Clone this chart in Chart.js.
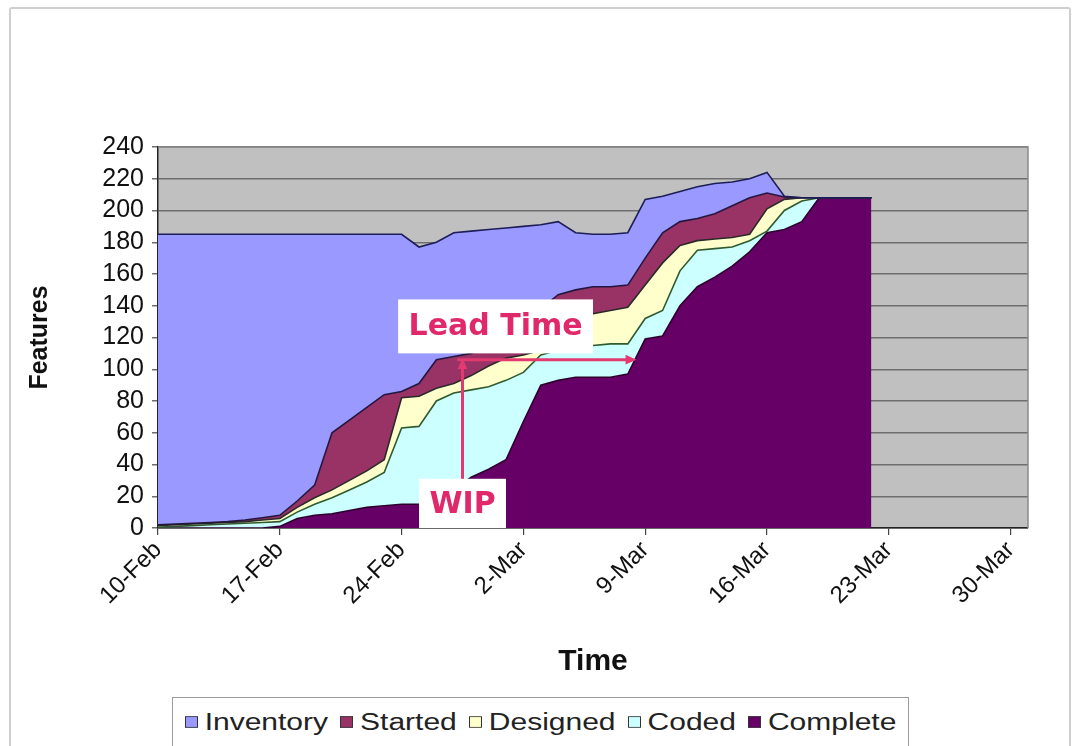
<!DOCTYPE html>
<html>
<head>
<meta charset="utf-8">
<script src="https://cdn.jsdelivr.net/npm/chart.js@4.4.1/dist/chart.umd.min.js"></script>
<style>
  html, body { margin: 0; padding: 0; background: #fff; overflow: hidden; }
  #frame { position: absolute; left: 9px; top: 7px; width: 1058px; height: 780px; border: 2px solid #cfcfcf; border-radius: 3px; }
  #wrap { position: absolute; left: 0; top: 0; width: 1075px; height: 690px; }
  #legend { position: absolute; left: 172px; top: 697px; width: 735px; height: 80px; border: 1.5px solid #9c9c9c; background: #fff;
            font-family: "Liberation Sans", Arial, sans-serif; font-size: 30px; color: #222; }
  #legend .row { height: 48px; display: flex; align-items: center; justify-content: center; transform: scaleY(0.82); }
  #legend .item { display: flex; align-items: center; margin: 0 6px; }
  #legend .box { width: 11px; height: 12px; border: 1.5px solid #333; margin-right: 7px; }
</style>
</head>
<body>
<div id="frame"></div>
<div id="wrap"><canvas id="cfd" width="1075" height="690"></canvas></div>
<div id="legend"><div class="row" id="legendRow"></div></div>
<script>
// days since 10-Feb
const days = [0, 1, 2, 3, 4, 5, 6, 7, 8, 9, 10, 11, 12, 13, 14, 15, 16, 17, 18, 19, 20,
              21, 22, 23, 24, 25, 26, 27, 28, 29, 30, 31, 32, 33, 34, 35, 36, 37, 38, 39, 40, 41];
const tickLabels = ['10-Feb', '17-Feb', '24-Feb', '2-Mar', '9-Mar', '16-Mar', '23-Mar', '30-Mar'];
const seriesNames = ['Inventory', 'Started', 'Designed', 'Coded', 'Complete'];

// cumulative feature counts (top edge of each band)
const inventory = [185, 185, 185, 185, 185, 185, 185, 185, 185, 185, 185, 185, 185, 185, 185, 177, 180, 186, 187, 188, 189,
                   190, 191, 193, 186, 185, 185, 186, 207, 209, 212, 215, 217, 218, 220, 224, 209, 208, 208, 208, 208, 208];
const started = [2, 2.5, 3, 3.5, 4, 5, 6.5, 8, 17, 27, 60, 68, 76, 84, 86, 91, 106, 108, 110, 114, 120,
                 128, 138, 147, 150, 152, 152, 153, 170, 186, 193, 195, 198, 203, 208, 211, 208.5, 208, 208, 208, 208, 208];
const designed = [1.5, 2, 2.5, 3, 3.5, 4, 5, 6, 13, 19, 24, 30, 36, 43, 82, 83, 88, 91, 96, 102, 107,
                  109, 112, 120, 128, 135, 137, 139, 153, 167, 178, 181, 182, 183, 185, 201, 207, 208, 208, 208, 208, 208];
const coded = [0.5, 1, 1.5, 2, 2.5, 3, 3.5, 4, 10, 15, 19, 24, 29, 35, 63, 64, 80, 85, 87, 89, 93,
               98, 109, 112, 114, 115, 116, 116, 132, 137, 162, 175, 176, 177, 181, 187, 200, 206, 208, 208, 208, 208];
const complete = [0, 0, 0, 0, 0, 0, 0, 1, 6, 8, 9, 11, 13, 14, 15, 15, 16, 24, 32, 37, 43,
                  67, 90, 93, 95, 95, 95, 97, 119, 121, 140, 152, 158, 165, 174, 186, 188, 193, 208, 208, 208, 208];

const fills = ['#9999FF', '#993366', '#FFFFCC', '#CCFFFF', '#660066'];
const edges = ['#1d1d58', '#24173f', '#2a2a2a', '#2f5a2f', '#2e002e'];

function pts(arr) {
    return arr.map((v, i) => ({x: days[i], y: v}));
}

const plotBack = {
    id: 'plotBack',
    beforeDraw(chart) {
        const {ctx, chartArea: a} = chart;
        ctx.save();
        ctx.fillStyle = '#c0c0c0';
        ctx.fillRect(a.left, a.top, a.right - a.left, a.bottom - a.top);
        ctx.restore();
    },
    afterDraw(chart) {
        const {ctx, chartArea: a} = chart;
        ctx.save();
        ctx.strokeStyle = '#8a8a8a';
        ctx.lineWidth = 1.5;
        ctx.beginPath();
        ctx.moveTo(a.left, a.top);
        ctx.lineTo(a.right, a.top);
        ctx.lineTo(a.right, a.bottom);
        ctx.stroke();
        ctx.restore();
    }
};

function arrow(ctx, x1, y1, x2, y2) {
    const ang = Math.atan2(y2 - y1, x2 - x1);
    const head = 12;
    ctx.beginPath();
    ctx.moveTo(x1, y1);
    ctx.lineTo(x2 - Math.cos(ang) * 6, y2 - Math.sin(ang) * 6);
    ctx.stroke();
    ctx.beginPath();
    ctx.moveTo(x2, y2);
    ctx.lineTo(x2 - head * Math.cos(ang - 0.42), y2 - head * Math.sin(ang - 0.42));
    ctx.lineTo(x2 - head * Math.cos(ang + 0.42), y2 - head * Math.sin(ang + 0.42));
    ctx.closePath();
    ctx.fill();
}

// "Lead Time" / "WIP" call-outs, placed in data space
const notes = {
    id: 'notes',
    afterDatasetsDraw(chart) {
        const {ctx, scales: {x, y}} = chart;
        ctx.save();
        ctx.fillStyle = '#ffffff';
        let lx1 = x.getPixelForValue(13.8), lx2 = x.getPixelForValue(25.0);
        let ly1 = y.getPixelForValue(144), ly2 = y.getPixelForValue(110);
        ctx.fillRect(lx1, ly1, lx2 - lx1, ly2 - ly1);
        let wx1 = x.getPixelForValue(15.0), wx2 = x.getPixelForValue(20.0);
        let wy1 = y.getPixelForValue(31), wy2 = y.getPixelForValue(0);
        ctx.fillRect(wx1, wy1, wx2 - wx1, wy2 - wy1);

        ctx.strokeStyle = '#e23a70';
        ctx.fillStyle = '#e23a70';
        ctx.lineWidth = 3;
        arrow(ctx, x.getPixelForValue(17.2), y.getPixelForValue(106), x.getPixelForValue(27.5), y.getPixelForValue(106));
        arrow(ctx, x.getPixelForValue(17.5), y.getPixelForValue(31), x.getPixelForValue(17.5), y.getPixelForValue(107));

        ctx.fillStyle = '#e0286a';
        ctx.font = 'bold 30px "DejaVu Sans", Verdana, sans-serif';
        ctx.textAlign = 'center';
        ctx.textBaseline = 'middle';
        ctx.fillText('Lead Time', (lx1 + lx2) / 2, (ly1 + ly2) / 2 + 1);
        ctx.fillText('WIP', (wx1 + wx2) / 2, (wy1 + wy2) / 2 + 2);
        ctx.restore();
    }
};

const sets = [inventory, started, designed, coded, complete];

const cfdChart = new Chart(document.getElementById('cfd'), {
    type: 'line',
    data: {
        datasets: sets.map((arr, i) => ({
            label: seriesNames[i],
            data: pts(arr),
            backgroundColor: fills[i],
            borderColor: edges[i],
            borderWidth: 1.6,
            pointRadius: 0,
            tension: 0,
            fill: i < 4 ? '+1' : 'origin'
        }))
    },
    options: {
        responsive: false,
        animation: false,
        layout: { padding: { top: 147, right: 47, left: 0, bottom: 0 } },
        plugins: {
            legend: { display: false },
            tooltip: { enabled: false },
            filler: { drawTime: 'beforeDatasetsDraw' }
        },
        scales: {
            x: {
                type: 'linear',
                min: 0,
                max: 50,
                afterFit(scale) { scale.height = 162; },
                grid: { drawOnChartArea: false, drawTicks: true, tickLength: 7, color: '#444', lineWidth: 1.2 },
                border: { color: '#222', width: 1.5 },
                ticks: {
                    stepSize: 7,
                    includeBounds: false,
                    autoSkip: false,
                    maxRotation: 45,
                    minRotation: 45,
                    padding: 1,
                    color: '#111',
                    font: { family: '"Liberation Sans", Arial, sans-serif', size: 24 },
                    callback: (v) => tickLabels[v / 7]
                },
                title: {
                    display: true,
                    text: 'Time',
                    color: '#111',
                    font: { family: '"Liberation Sans", Arial, sans-serif', size: 30, weight: 'bold' },
                    padding: { top: 0, bottom: 10 }
                }
            },
            y: {
                min: 0,
                max: 240,
                afterFit(scale) { scale.width = 158; },
                grid: { color: '#6e6e6e', lineWidth: 1.5, tickLength: 6 },
                border: { color: '#222', width: 1.5 },
                ticks: {
                    stepSize: 20,
                    autoSkip: false,
                    padding: 8,
                    color: '#111',
                    font: { family: '"Liberation Sans", Arial, sans-serif', size: 25 }
                },
                title: {
                    display: true,
                    text: 'Features',
                    color: '#111',
                    font: { family: '"Liberation Sans", Arial, sans-serif', size: 25, weight: 'bold' },
                    padding: { top: 25, bottom: 0 }
                }
            }
        }
    },
    plugins: [plotBack, notes]
});

// legend below the chart, built from the datasets
let legendRow = document.getElementById('legendRow');
cfdChart.data.datasets.forEach(function(ds) {
    let item = document.createElement('span');
    item.className = 'item';
    let box = document.createElement('span');
    box.className = 'box';
    box.style.background = ds.backgroundColor;
    item.appendChild(box);
    item.appendChild(document.createTextNode(ds.label));
    legendRow.appendChild(item);
});
</script>
</body>
</html>
